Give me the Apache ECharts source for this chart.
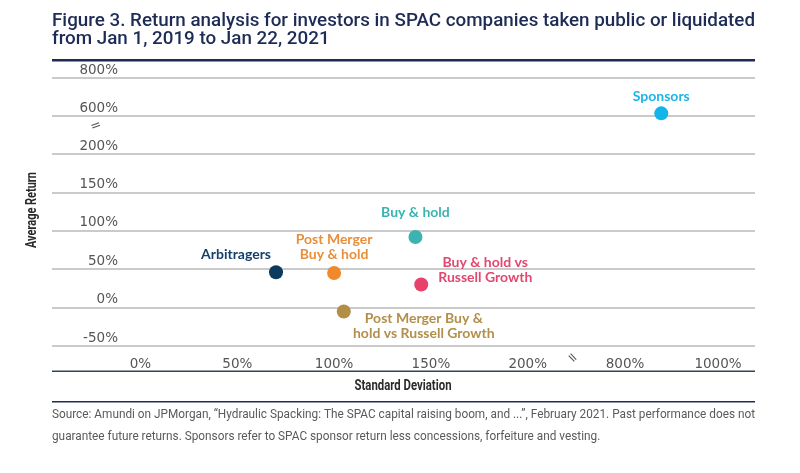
<!DOCTYPE html>
<html>
<head>
<meta charset="utf-8">
<script src="https://cdn.jsdelivr.net/npm/echarts@6/dist/echarts.min.js"></script>
<style>
html,body{margin:0;padding:0;background:#fff;}
#chart{width:800px;height:473px;}
</style>
</head>
<body>
<div id="chart"></div>
<script>
// ---- data ----
const investorTypes = ['Arbitragers', 'Post Merger Buy & hold', 'Buy & hold', 'Buy & hold vs Russell Growth', 'Post Merger Buy & hold vs Russell Growth', 'Sponsors'];
const pointLabels = ['Arbitragers', 'Post Merger\nBuy & hold', 'Buy & hold', 'Buy & hold vs\nRussell Growth', 'Post Merger Buy &\nhold vs Russell Growth', 'Sponsors'];
const stdDeviation = [70, 100, 142, 145, 105, 878];   // %
const averageReturn = [46, 45, 92, 30, -5, 614];     // %
const xTicksLow = [0, 50, 100, 150, 200];
const xTicksHigh = [800, 1000];
const yTicksLow = [-50, 0, 50, 100, 150, 200];
const yTicksHigh = [600, 800];

const titleLines = ['Figure 3. Return analysis for investors in SPAC companies taken public or liquidated', 'from Jan 1, 2019 to Jan 22, 2021'];
const sourceLines = ['Source: Amundi on JPMorgan, \u201cHydraulic Spacking: The SPAC capital raising boom, and ...\u201d, February 2021. Past performance does not', 'guarantee future returns. Sponsors refer to SPAC sponsor return less concessions, forfeiture and vesting.'];
const xAxisTitle = 'Standard Deviation';
const yAxisTitle = 'Average Return';

// ---- styles ----
const dotColors = ['#0e3a5e', '#f0892a', '#3bb4b1', '#e7426b', '#b28e46', '#12b5ea'];
const labelColors = ['#15406a', '#e88f3c', '#3bb4b1', '#e2476f', '#b28f4a', '#1db4e6'];
const labelOffsets = [[-40, -18], [0, -26], [0, -24], [64, -15], [80, 15], [0, -17]];
const GRAY = '#555';
const GRID = '#b9b9b9';
const NAVY = '#1d2b55';

const L = 52, SPLIT = 574, R = 755;
const chart = echarts.init(document.getElementById('chart'), null, {renderer: 'canvas'});

const mctx = document.createElement('canvas').getContext('2d');
function fitScale(text, font, target) {
  mctx.font = font;
  return target / mctx.measureText(text).width;
}

function pct(v) { return v + '%'; }

const lowX = {min: -45.7, max: 223.9};
const highX = {min: 690.3, max: 1079.6};

function xAxis(gridIndex, range, ticks, showLabels) {
  return {
    type: 'value', gridIndex, min: range.min, max: range.max,
    axisLine: {show: false},
    axisTick: {show: false, customValues: ticks},
    splitLine: {show: false},
    axisLabel: {
      show: showLabels, customValues: ticks, formatter: pct, margin: 11,
      color: GRAY, fontFamily: 'DejaVu Sans', fontSize: 13.5
    }
  };
}
function yAxis(gridIndex, min, max, interval, showLabels) {
  return {
    type: 'value', gridIndex, min, max, interval,
    axisLine: {show: false},
    axisTick: {show: false},
    splitLine: {show: true, lineStyle: {color: GRID, width: 1.5}},
    axisLabel: {
      show: showLabels, inside: true, margin: 66, align: 'right',
      verticalAlign: 'bottom', padding: [0, 0, 1, 0],
      formatter: pct, color: GRAY, fontFamily: 'DejaVu Sans', fontSize: 13.5
    }
  };
}

function makePoint(i) {
  return {
    name: investorTypes[i],
    value: [stdDeviation[i], averageReturn[i]],
    itemStyle: {color: dotColors[i], opacity: 1},
    label: {
      show: true, position: 'inside', offset: labelOffsets[i],
      formatter: pointLabels[i], color: labelColors[i], align: 'center',
      fontFamily: 'Lato', fontWeight: 'bold', fontSize: 14, lineHeight: 15
    }
  };
}
const lowPts = [], highPts = [];
for (let i = 0; i < investorTypes.length; i++) {
  (stdDeviation[i] >= 800 ? highPts : lowPts).push(makePoint(i));
}

const titleFont = '500 18px Roboto';
const titleScale = fitScale(titleLines[0], titleFont, R - L);
const srcFont = '13.5px Roboto';
const srcScale = fitScale(sourceLines[0], srcFont, R - L);
const axTitleFont = 'bold 14px Roboto';
const xtScale = fitScale(xAxisTitle, axTitleFont, 97);
const ytScale = fitScale(yAxisTitle, axTitleFont, 76);

const option = {
  animation: false,
  grid: [
    {left: L, top: 154, width: SPLIT - L, height: 192},
    {left: SPLIT, top: 154, width: R - SPLIT, height: 192},
    {left: L, top: 78, width: SPLIT - L, height: 38},
    {left: SPLIT, top: 78, width: R - SPLIT, height: 38}
  ],
  xAxis: [
    xAxis(0, lowX, xTicksLow, true),
    xAxis(1, highX, xTicksHigh, true),
    xAxis(2, lowX, xTicksLow, false),
    xAxis(3, highX, xTicksHigh, false)
  ],
  yAxis: [
    yAxis(0, yTicksLow[0], yTicksLow[yTicksLow.length - 1], 50, true),
    yAxis(1, yTicksLow[0], yTicksLow[yTicksLow.length - 1], 50, false),
    yAxis(2, yTicksHigh[0], yTicksHigh[1], 200, true),
    yAxis(3, yTicksHigh[0], yTicksHigh[1], 200, false)
  ],
  series: [
    {type: 'scatter', xAxisIndex: 0, yAxisIndex: 0, symbolSize: 14, data: lowPts, clip: false},
    {type: 'scatter', xAxisIndex: 3, yAxisIndex: 3, symbolSize: 14, data: highPts, clip: false}
  ],
  graphic: [
    {type: 'text', x: L, y: 13, scaleX: titleScale, style: {
      text: titleLines.join('\n'), x: 0, y: 0,
      fill: NAVY, font: titleFont, lineHeight: 17.5, verticalAlign: 'top'
    }},
    {type: 'rect', shape: {x: L, y: 59, width: R - L, height: 2.5}, style: {fill: NAVY}},
    {type: 'rect', shape: {x: L, y: 370.5, width: R - L, height: 1.5}, style: {fill: '#2c4560'}},
    {type: 'rect', shape: {x: L, y: 401, width: R - L, height: 1.5}, style: {fill: NAVY}},
    {type: 'text', x: 96, y: 126, rotation: 0.35, style: {text: '=', x: 0, y: 0, fill: GRAY, font: '13px DejaVu Sans', align: 'center', verticalAlign: 'middle'}},
    {type: 'text', x: 572, y: 358, rotation: -0.8, style: {text: '=', x: 0, y: 0, fill: GRAY, font: '13px DejaVu Sans', align: 'center', verticalAlign: 'middle'}},
    {type: 'text', x: 32, y: 210, rotation: Math.PI / 2, scaleX: ytScale, style: {text: yAxisTitle, x: 0, y: 0, fill: '#2a2a2a', font: axTitleFont, align: 'center', verticalAlign: 'middle'}},
    {type: 'text', x: 403, y: 386, scaleX: xtScale, style: {text: xAxisTitle, x: 0, y: 0, fill: '#2a2a2a', font: axTitleFont, align: 'center', verticalAlign: 'middle'}},
    {type: 'text', x: L, y: 404, scaleX: srcScale, style: {
      text: sourceLines.join('\n'), x: 0, y: 0,
      fill: '#5a5a5a', font: srcFont, lineHeight: 22, verticalAlign: 'top'
    }}
  ]
};
chart.setOption(option);
</script>
</body>
</html>
